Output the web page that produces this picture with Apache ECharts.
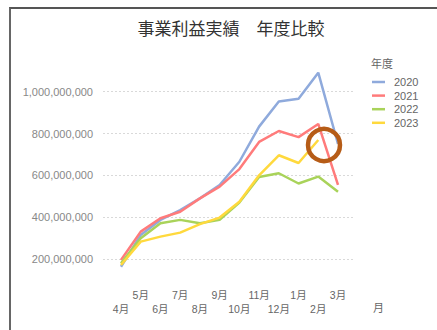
<!DOCTYPE html>
<html><head><meta charset="utf-8">
<script src="https://cdn.jsdelivr.net/npm/echarts@6/dist/echarts.min.js"></script>
<style>
html,body{margin:0;padding:0;background:#fff;}
#c{width:437px;height:330px;}
#frame{position:absolute;left:9px;top:7px;width:428px;height:323px;border-top:2px solid #555;border-left:2px solid #666;pointer-events:none;box-sizing:border-box;}
</style></head>
<body><div id="c"></div><div id="frame"></div>
<script>
const months = ['4月','5月','6月','7月','8月','9月','10月','11月','12月','1月','2月','3月'];
const y2020 = [163000000, 315000000, 387000000, 434000000, 490000000, 554000000, 665000000, 833000000, 953000000, 966000000, 1091000000, 750000000];
const y2021 = [195000000, 331000000, 395000000, 426000000, 490000000, 546000000, 630000000, 760000000, 812000000, 783000000, 846000000, 554000000];
const y2022 = [179000000, 299000000, 371000000, 387000000, 371000000, 387000000, 470000000, 592000000, 610000000, 561000000, 594000000, 522000000];
const y2023 = [171000000, 283000000, 307000000, 326000000, 367000000, 398000000, 474000000, 600000000, 696000000, 659000000, 769000000, null];
const yTicks = [0, 200000000, 400000000, 600000000, 800000000, 1000000000, 1200000000];

const latin = '"Liberation Sans", "Noto Sans CJK JP", sans-serif';
const cjk = '"Noto Sans CJK JP", sans-serif';
const yMin = yTicks[0], yMax = yTicks[yTicks.length - 1], yStep = yTicks[1] - yTicks[0];

const chart = echarts.init(document.getElementById('c'), null, {renderer: 'svg'});
const mk = (name, data, color) => ({
  name, type: 'line', data, xAxisIndex: 0, yAxisIndex: 0,
  symbol: 'none', showSymbol: false, smooth: false, connectNulls: false,
  lineStyle: {color, width: 2.5}, itemStyle: {color}
});
chart.setOption({
  animation: false,
  title: [
    {text: '事業利益実績　年度比較', left: 231, top: 19, textAlign: 'center', padding: 0,
     textStyle: {fontFamily: cjk, fontSize: 17, fontWeight: 'normal', color: '#333'}},
    {text: '年度', left: 371, top: 57, padding: 0,
     textStyle: {fontFamily: cjk, fontSize: 11, fontWeight: 'normal', color: '#666'}}
  ],
  legend: {
    orient: 'vertical', left: 372, top: 75.5, padding: 0,
    icon: 'rect', itemWidth: 13, itemHeight: 2.5, itemGap: 0.6,
    data: ['2020','2021','2022','2023'],
    textStyle: {fontFamily: latin, fontSize: 11, color: '#666', lineHeight: 13, padding: [0,0,0,4]}
  },
  grid: [
    {left: 121, right: 99, top: 49.9, bottom: 29.2},
    {left: 103, right: 82, top: 49.9, bottom: 29.2}
  ],
  xAxis: [
    {type: 'category', gridIndex: 0, data: months, boundaryGap: false,
     axisLine: {show: false}, axisTick: {show: false}, splitLine: {show: false},
     name: '月', nameLocation: 'end', nameGap: 35,
     nameTextStyle: {fontFamily: cjk, fontSize: 11, color: '#666', verticalAlign: 'top', padding: [1,0,0,0]},
     axisLabel: {interval: 0, margin: -12.8, hideOverlap: false,
       fontFamily: latin, fontSize: 10.5, color: '#666', lineHeight: 14,
       formatter: (v, i) => (i % 2 === 0 ? '\n' + v : v)}},
    {type: 'value', gridIndex: 1, show: false}
  ],
  yAxis: [
    {type: 'value', gridIndex: 0, min: yMin, max: yMax, interval: yStep, show: false},
    {type: 'value', gridIndex: 1, min: yMin, max: yMax, interval: yStep,
     axisLine: {show: false}, axisTick: {show: false},
     showMinLabel: false, showMaxLabel: false,
     axisLabel: {margin: 10, fontFamily: latin, fontSize: 11, color: '#888',
       formatter: v => (v === yMin || v === yMax) ? '' : v.toLocaleString('en-US')},
     splitLine: {show: true, lineStyle: {type: [2, 2], width: 1,
       color: ['rgba(0,0,0,0)', '#d9d9d9', '#d9d9d9', '#d9d9d9', '#d9d9d9', '#d9d9d9', 'rgba(0,0,0,0)']}}}
  ],
  series: [
    mk('2020', y2020, '#8faadc'),
    mk('2021', y2021, '#ff7b7b'),
    mk('2022', y2022, '#a9d35a'),
    mk('2023', y2023, '#ffd93d')
  ],
  graphic: [
    {type: 'circle', z: 100, shape: {cx: 324, cy: 145, r: 16},
     style: {fill: 'none', stroke: '#b65c17', lineWidth: 4.5}}
  ]
});
</script>
</body></html>
